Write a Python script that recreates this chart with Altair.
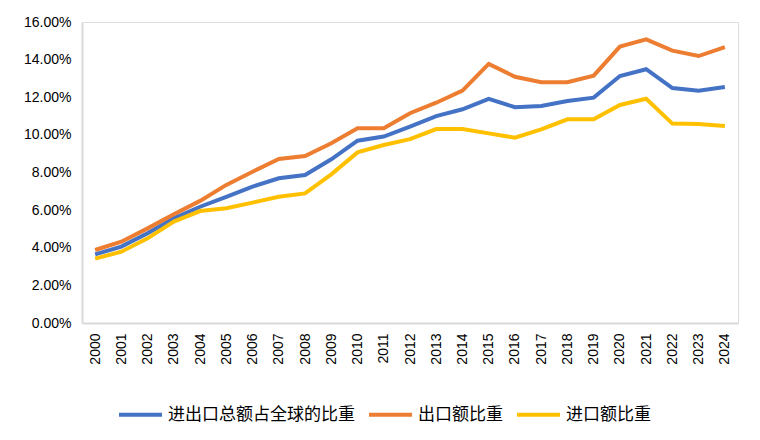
import altair as alt
import pandas as pd

years = [str(y) for y in range(2000, 2025)]
series_names = ["进出口总额占全球的比重", "出口额比重", "进口额比重"]
total_share = [3.65, 4.06, 4.77, 5.56, 6.18, 6.71, 7.25, 7.69, 7.87, 8.70, 9.69, 9.91,
               10.44, 11.00, 11.36, 11.91, 11.47, 11.54, 11.80, 11.98, 13.13, 13.49,
               12.49, 12.35, 12.55]
export_share = [3.88, 4.32, 5.03, 5.78, 6.49, 7.34, 8.04, 8.72, 8.88, 9.55, 10.35, 10.35,
                11.15, 11.71, 12.35, 13.77, 13.09, 12.80, 12.80, 13.15, 14.69, 15.08,
                14.48, 14.19, 14.66]
import_share = [3.42, 3.79, 4.50, 5.39, 5.95, 6.10, 6.40, 6.71, 6.89, 7.90, 9.07, 9.46,
                9.77, 10.31, 10.31, 10.08, 9.85, 10.29, 10.83, 10.83, 11.59, 11.92,
                10.60, 10.58, 10.47]
colors = ["#4472C4", "#ED7D31", "#FFC000"]

rows = []
for k, (name, vals) in enumerate(zip(series_names, [total_share, export_share, import_share])):
    for yr, v in zip(years, vals):
        rows.append({"year": yr, "series": name, "value": v / 100.0, "series_order": k})
df = pd.DataFrame(rows)

chart = alt.Chart(df).mark_line(strokeWidth=4).encode(
    x=alt.X("year:O", title=None, sort=years,
            axis=alt.Axis(labelAngle=270, labelFontSize=14, labelFont="Liberation Sans",
                          labelColor="#000000", labelPadding=10, ticks=False,
                          domainColor="#d9d9d9", domainWidth=2)),
    y=alt.Y("value:Q", title=None,
            scale=alt.Scale(domain=[0, 0.16], nice=False),
            axis=alt.Axis(format=".2%", values=[0, 0.02, 0.04, 0.06, 0.08, 0.10, 0.12, 0.14, 0.16],
                          labelFontSize=14, labelFont="Liberation Sans", labelColor="#000000",
                          labelPadding=11, ticks=False, grid=False,
                          domainColor="#d9d9d9", domainWidth=2)),
    color=alt.Color("series:N", title=None,
                    scale=alt.Scale(domain=series_names, range=colors),
                    legend=alt.Legend(orient="none", legendX=35, legendY=369,
                                      direction="horizontal", symbolType="stroke",
                                      symbolSize=1849, symbolStrokeWidth=4,
                                      labelFontSize=17, labelFont="Noto Sans CJK SC",
                                      labelColor="#000000", labelOffset=4, labelLimit=400,
                                      columnPadding=6)),
    order=alt.Order("series_order:Q"),
).properties(
    width=656, height=301,
    autosize=alt.AutoSizeParams(type="none"),
    padding={"left": 74, "top": 14, "right": 14, "bottom": 109},
).configure_view(stroke=None).configure(background="white")

chart.save("out.html", embed_options={"renderer": "svg", "actions": False})
